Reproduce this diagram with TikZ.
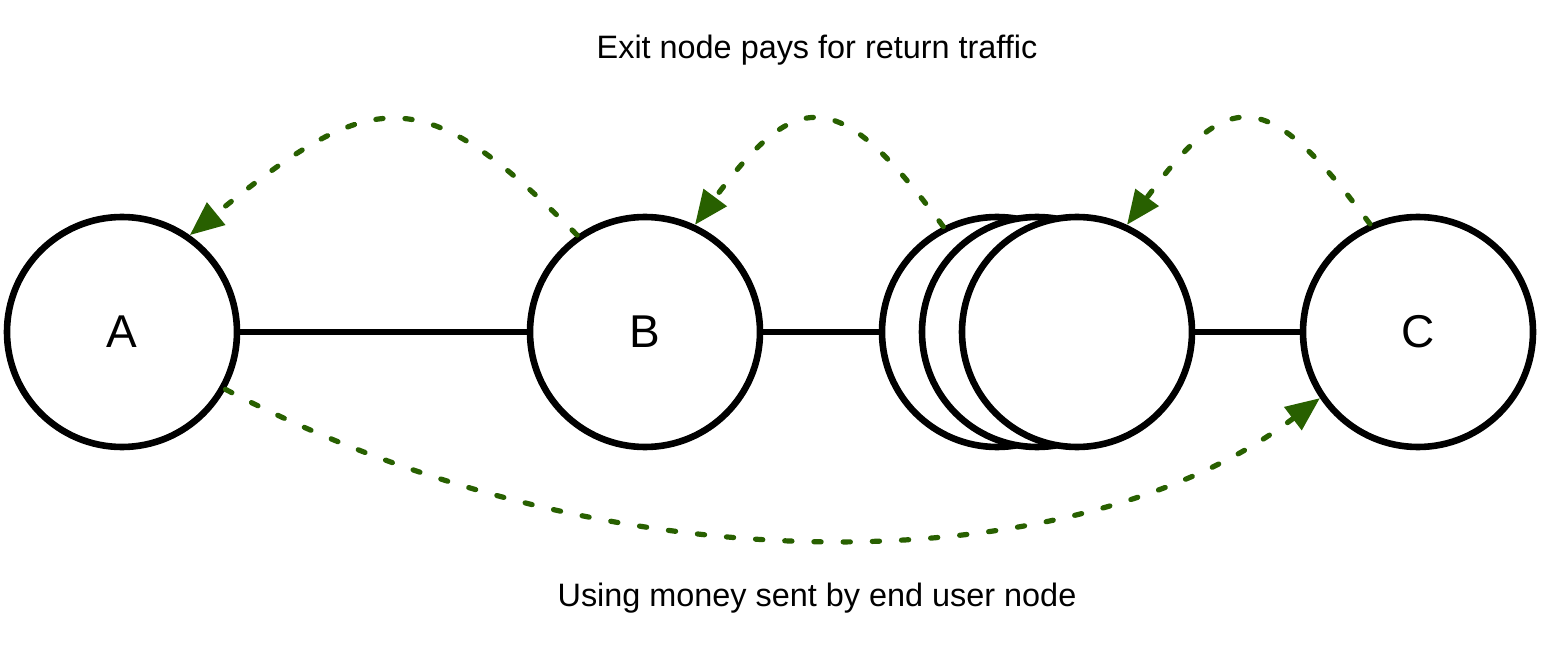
\documentclass[tikz,border=0pt]{standalone}
\usepackage{fontspec}
\setmainfont{Liberation Sans}
\usetikzlibrary{arrows.meta}
\definecolor{pathgreen}{RGB}{40,96,0}
\tikzset{
  peer/.style={circle, draw=black, fill=white, line width=3.3pt, minimum size=115pt, inner sep=0pt, font=\fontsize{23pt}{27pt}\selectfont},
  link/.style={draw=black, line width=3.3pt},
  pay/.style={draw=pathgreen, line width=2.6pt, line cap=round, dash pattern=on 3.6pt off 11pt,
    -{Triangle[length=17pt,width=14pt,fill=pathgreen]}},
  caption/.style={anchor=base, font=\fontsize{16.2pt}{19pt}\selectfont, inner sep=0pt}
}
\begin{document}
\begin{tikzpicture}[x=0.5pt,y=-0.5pt]
\useasboundingbox (0,0) rectangle (1542,652);
\node[peer] (A) at (122,332) {A};
\node[peer] (B) at (645,332) {B};
\node[peer] (S1) at (997,332) {};
\node[peer] (S2) at (1037,332) {};
\node[peer] (S3) at (1077,332) {};
\node[peer] (C) at (1418,332) {C};
\draw[link] (A) -- (B);
\draw[link] (B) -- (S1);
\draw[link] (S3) -- (C);
\draw[pay] (B.125) .. controls (423,80) and (374,85) .. (A.55);
\draw[pay] (S1.117) .. controls (839,86) and (798,86) .. (B.65);
\draw[pay] (C.114) .. controls (1267,86) and (1229,86) .. (S3.65);
\draw[pay] (A.-29) .. controls (620,596) and (1080,580) .. (C.214);
\node[caption] (top) at (817,59) {Exit node pays for return traffic};
\node[caption] (bottom) at (817,606) {Using money sent by end user node};
\end{tikzpicture}
\end{document}
